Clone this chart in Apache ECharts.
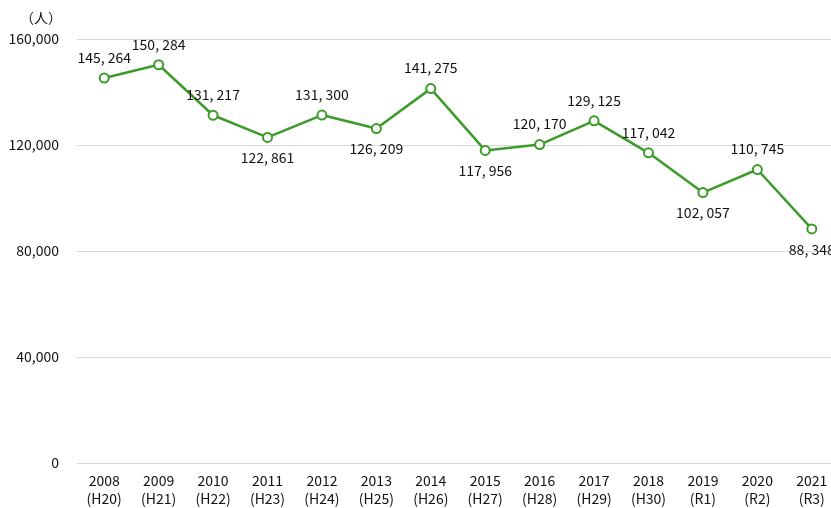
<!DOCTYPE html>
<html><head><meta charset="utf-8">
<script src="https://cdn.jsdelivr.net/npm/echarts@6/dist/echarts.min.js"></script>
<style>html,body{margin:0;padding:0;background:#fff;overflow:hidden}#c{width:840px;height:508px}</style>
</head><body><div id="c"></div>
<script>
const years = ['2008','2009','2010','2011','2012','2013','2014','2015','2016','2017','2018','2019','2020','2021'];
const eras = ['(H20)','(H21)','(H22)','(H23)','(H24)','(H25)','(H26)','(H27)','(H28)','(H29)','(H30)','(R1)','(R2)','(R3)'];
const people = [145264,150284,131217,122861,131300,126209,141275,117956,120170,129125,117042,102057,110745,88348];
const labelPos = ['top','top','top','bottom','top','bottom','top','bottom','top','top','top','bottom','top','bottom'];
const yTicks = [0,40000,80000,120000,160000];

const font = '"Noto Sans CJK JP", "Noto Sans", sans-serif';
const chart = echarts.init(document.getElementById('c'), null, {renderer:'canvas'});
chart.setOption({
  animation:false,
  backgroundColor:'#fff',
  grid:{left:77,right:1,top:39,bottom:45},
  graphic:[{type:'text',left:20,top:11,style:{text:'（人）',font:'14px '+font,fill:'#111'}}],
  xAxis:{type:'category',data:years.map((y,i)=>y+'\n'+eras[i]),
    axisLine:{show:false},axisTick:{show:false},
    axisLabel:{color:'#111',fontFamily:font,fontSize:14,lineHeight:18,margin:9}},
  yAxis:{type:'value',min:yTicks[0],max:yTicks[yTicks.length-1],interval:40000,
    axisLine:{show:false},axisTick:{show:false},
    splitLine:{lineStyle:{color:'#d9d9d9',width:1}},
    axisLabel:{color:'#111',fontFamily:font,fontSize:14,margin:18,
      formatter:v=>v.toLocaleString('en-US')}},
  series:[{type:'line',data:people.map((v,i)=>({value:v,label:{position:labelPos[i]}})),
    symbol:'circle',symbolSize:9,
    lineStyle:{color:'#3d9b2b',width:2.5},
    itemStyle:{color:'#fff',borderColor:'#3d9b2b',borderWidth:2},
    label:{show:true,distance:8,color:'#111',fontFamily:font,fontSize:14,
      formatter:p=>p.value.toLocaleString('en-US').replace(',',', ')}}]
});
</script></body></html>
